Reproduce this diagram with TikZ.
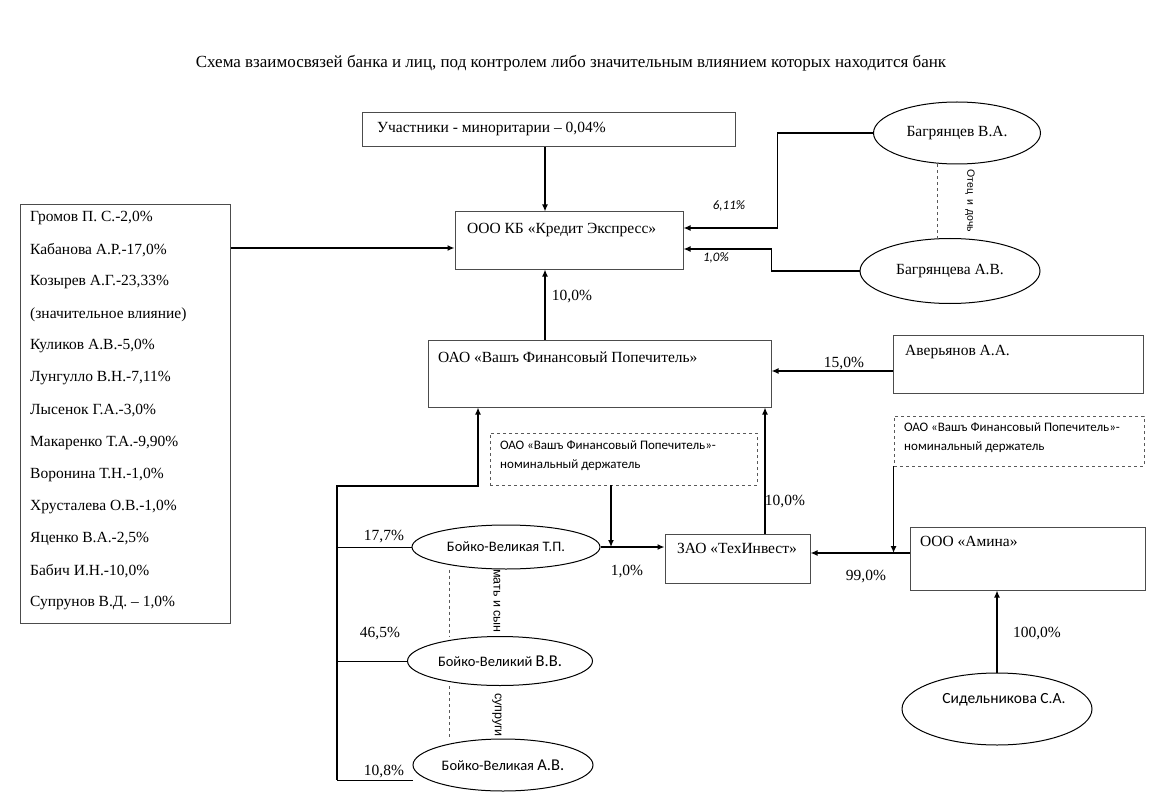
\documentclass[tikz,border=0pt]{standalone}
\usepackage{fontspec}
\setmainfont{Liberation Serif}
\newfontfamily\calibri{Carlito}
\newfontfamily\arial{Liberation Sans}
\usetikzlibrary{arrows.meta,shapes.geometric}

\tikzset{
  box/.style={draw=black!70, line width=1pt, rectangle, inner sep=0pt},
  dbox/.style={draw=black!65, line width=0.9pt, dashed, rectangle, inner sep=0pt},
  person/.style={draw=black, line width=1pt, ellipse, inner sep=0pt},
  arr/.style={line width=1.3pt, -{Latex[length=7pt,width=6pt]}},
  link/.style={line width=1pt},
  kin/.style={draw=black!65, line width=0.9pt, dashed},
  txt/.style={font=\fontsize{15.5}{17}\selectfont, inner sep=0pt},
  ptxt/.style={font=\calibri\fontsize{14.5}{16}\selectfont},
  stxt/.style={font=\calibri\fontsize{13}{19}\selectfont, inner sep=0pt},
  rtxt/.style={font=\arial\fontsize{12.5}{14}\selectfont, inner sep=0pt, rotate=-90},
  ipct/.style={font=\calibri\itshape\fontsize{13}{15}\selectfont, inner sep=0pt},
}

\begin{document}
\begin{tikzpicture}[x=1pt,y=-1pt]
\useasboundingbox (0,0) rectangle (1153,802);

\node[txt, font=\fontsize{17}{19}\selectfont] (title) at (571,63) {Схема взаимосвязей банка и лиц, под контролем либо значительным влиянием которых находится банк};

% bank and the owners above it
\node[box, minimum width=373pt, minimum height=34pt] (min) at (548.5,130) {};
\node[txt, anchor=west] (mint) at (377,129) {Участники - миноритарии – 0,04\%};
\node[box, minimum width=228pt, minimum height=57pt] (kb) at (569,240.5) {};
\node[txt, anchor=west] (kbt) at (467,230) {ООО КБ «Кредит Экспресс»};
\draw[arr] (min.south -| 545,0) -- (kb.north -| 545,0);

\node[person, minimum width=167pt, minimum height=62pt, txt] (bva) at (957,133) {Багрянцев В.А.};
\node[person, minimum width=180pt, minimum height=65pt, txt] (bav) at (950,271) {Багрянцева А.В.};
\draw[kin] (bva.south -| 937,0) -- (bav.north -| 937,0);
\node[rtxt, font=\arial\fontsize{10.5}{12}\selectfont] (fd) at (970,201) {Отец\, и\, дочь};
\draw[arr] (bva.west) -- ++(-95.5,0) |- ([yshift=12.5pt]kb.east);
\draw[arr] (bav.west) -- ++(-88,0) |- ([yshift=-8.5pt]kb.east);
\node[ipct] (p611) at (729,206) {6,11\%};
\node[ipct] (p10a) at (716,258) {1,0\%};

% shareholders list
\node[box, minimum width=210pt, minimum height=418pt] (lst) at (125,414) {};
\foreach \name [count=\i] in {{Громов П. С.-2,0\%}, {Кабанова А.Р.-17,0\%}, {Козырев А.Г.-23,33\%},
  {(значительное влияние)}, {Куликов А.В.-5,0\%}, {Лунгулло В.Н.-7,11\%}, {Лысенок Г.А.-3,0\%},
  {Макаренко Т.А.-9,90\%}, {Воронина Т.Н.-1,0\%}, {Хрусталева О.В.-1,0\%}, {Яценко В.А.-2,5\%},
  {Бабич И.Н.-10,0\%}, {Супрунов В.Д. – 1,0\%}}
  \node[txt, anchor=west] (lst\i) at (30,{218+32.1*(\i-1)}) {\name};
\draw[arr] (lst.east |- 0,248) -- (kb.west |- 0,248);

% holding company
\node[box, minimum width=343pt, minimum height=67pt] (vfp) at (599.5,373.5) {};
\node[txt, anchor=west] (vfpt) at (438,357) {ОАО «Вашъ Финансовый Попечитель»};
\draw[arr] (vfp.north -| 545,0) -- (kb.south -| 545,0);
\node[txt] (p10b) at (572,297) {10,0\%};

\node[box, minimum width=250pt, minimum height=58pt] (avr) at (1018,364) {};
\node[txt, anchor=west] (avrt) at (905,352) {Аверьянов А.А.};
\draw[arr] (avr.west |- 0,371) -- (vfp.east |- 0,371);
\node[txt] (p15) at (844,364) {15,0\%};

% nominal holders
\node[dbox, minimum width=267pt, minimum height=52pt] (nd1) at (623.5,459) {};
\node[stxt, anchor=west, align=left] (nd1t) at (500,455.5) {ОАО «Вашъ Финансовый Попечитель»-\\номинальный держатель};
\node[dbox, minimum width=250pt, minimum height=50pt] (nd2) at (1019,441) {};
\node[stxt, anchor=west, align=left] (nd2t) at (904,437.5) {ОАО «Вашъ Финансовый Попечитель»-\\номинальный держатель};

% companies
\node[box, minimum width=145pt, minimum height=49pt] (zao) at (737.5,558.5) {};
\node[txt, anchor=west] (zaot) at (677,548) {ЗАО «ТехИнвест»};
\node[box, minimum width=235pt, minimum height=63pt] (am) at (1027.5,558.5) {};
\node[txt, anchor=west] (amt) at (920,541) {ООО «Амина»};
\draw[arr] (zao.north -| 765,0) -- (vfp.south -| 765,0);
\node[txt] (p10c) at (785,502) {10,0\%};
\draw[arr] (am.west |- 0,553) -- (zao.east |- 0,553);
\node[txt] (p99) at (866,577) {99,0\%};
\draw[arr] (nd2.south west) -- (nd2.south west |- 0,553);

\node[person, minimum width=190pt, minimum height=72pt] (sid) at (997,709) {};
\node[ptxt, font=\calibri\fontsize{15.5}{17}\selectfont, inner sep=0pt] (sidt) at (1004,700) {Сидельникова С.А.};
\draw[arr] (sid.north) -- (am.south -| sid.north);
\node[txt] (p100) at (1037,634) {100,0\%};

% family
\node[person, minimum width=188pt, minimum height=44pt, ptxt] (tp) at (506,547) {Бойко-Великая Т.П.};
\node[person, minimum width=185pt, minimum height=49pt, ptxt] (vv) at (500,661) {Бойко-Великий {\fontsize{16.5}{16}\selectfont В.В.}};
\node[person, minimum width=180pt, minimum height=52pt, ptxt] (ab) at (503,765) {Бойко-Великая {\fontsize{16.5}{16}\selectfont А.В.}};
\draw[arr] (tp.east) -- (zao.west |- tp.east);
\node[txt] (p10d) at (627,572) {1,0\%};
\draw[arr] (nd1.south -| 611,0) -- (611,0 |- tp.east);
\draw[kin] (tp.south -| 449,0) -- (vv.north -| 449,0);
\draw[kin] (vv.south -| 449,0) -- (ab.north -| 449,0);
\node[rtxt] (ms) at (497,601) {мать и сын};
\node[rtxt] (sp) at (497,715) {супруги};

\coordinate (trunk) at (337,780);
\draw[arr] (trunk) -- (337,486) -| (vfp.south -| 478,0);
\draw[link] (tp.west) -- (tp.west -| trunk);
\draw[link] (vv.west) -- (vv.west -| trunk);
\draw[link] (trunk) -- (ab.west |- trunk);
\node[txt] (p177) at (384,537) {17,7\%};
\node[txt] (p465) at (380,634) {46,5\%};
\node[txt] (p108) at (384,772) {10,8\%};
\end{tikzpicture}
\end{document}
